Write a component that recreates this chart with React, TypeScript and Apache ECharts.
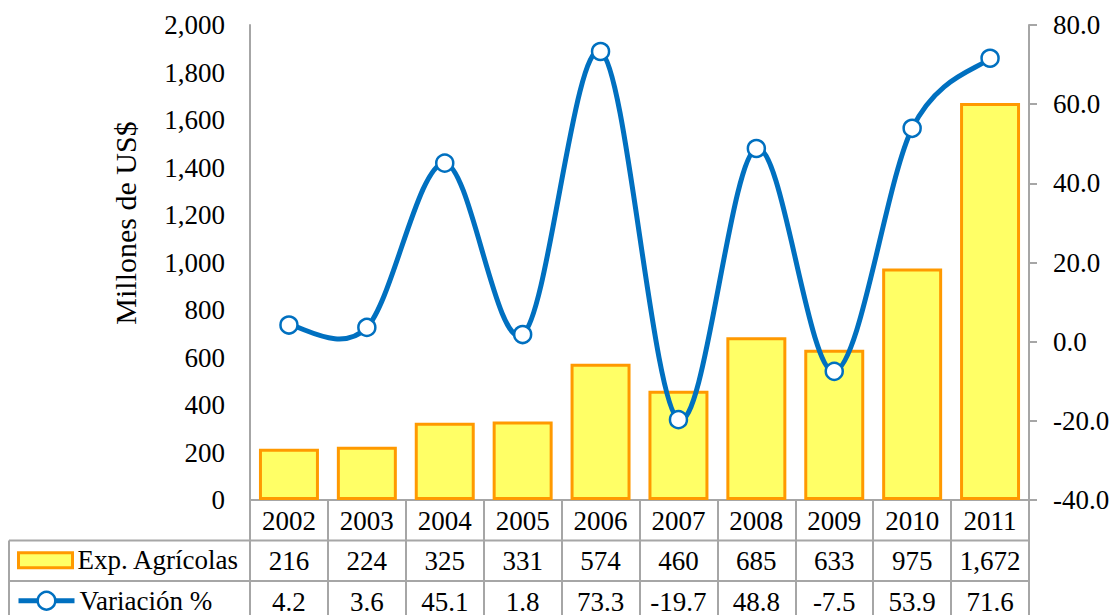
import React, { useEffect, useRef } from "react";
import * as echarts from "echarts";

// Agricultural exports (millions of US$) and their year-on-year change (%)
const years = ["2002", "2003", "2004", "2005", "2006", "2007", "2008", "2009", "2010", "2011"];
const exportValues = [216, 224, 325, 331, 574, 460, 685, 633, 975, 1672];
const variationValues = [4.2, 3.6, 45.1, 1.8, 73.3, -19.7, 48.8, -7.5, 53.9, 71.6];

const exportName = "Exp. Agrícolas";
const variationName = "Variación %";
const leftAxisName = "Millones de US$";

const FONT = "'Liberation Serif', 'Times New Roman', serif";
const FS = 27;
const GRID_COLOR = "#A6A6A6";
const BLUE = "#0070C0";
const BAR_FILL = "#FFFF66";
const BAR_EDGE = "#FF9900";

const fmtThousands = (v: number) => v.toLocaleString("en-US");
const fmtOneDecimal = (v: number) => v.toFixed(1);

// plot area and data table geometry
const GRID_LEFT = 250;
const GRID_RIGHT = 1029;
const GRID_TOP = 25;
const GRID_BOTTOM = 500;
const ROW_H = 40.5;
const TABLE_LEFT = 9;

// Catmull-Rom style smoothing: one cubic bezier per segment between points i and i+1
function renderSmoothSegment(params: any, api: any) {
  const i = params.dataIndex;
  const n = variationValues.length;
  if (i >= n - 1) return { type: "group", children: [] };
  const pt = (k: number) => {
    const j = Math.max(0, Math.min(n - 1, k));
    return api.coord([j, variationValues[j]]);
  };
  const p0 = pt(i - 1);
  const p1 = pt(i);
  const p2 = pt(i + 1);
  const p3 = pt(i + 2);
  return {
    type: "bezierCurve",
    silent: true,
    z2: 10,
    shape: {
      x1: p1[0],
      y1: p1[1],
      x2: p2[0],
      y2: p2[1],
      cpx1: p1[0] + (p2[0] - p0[0]) / 6,
      cpy1: p1[1] + (p2[1] - p0[1]) / 6,
      cpx2: p2[0] - (p3[0] - p1[0]) / 6,
      cpy2: p2[1] - (p3[1] - p1[1]) / 6,
    },
    style: { stroke: BLUE, lineWidth: 5, fill: "none", lineCap: "round" },
  };
}

export default function App() {
  const ref = useRef<HTMLDivElement>(null);

  useEffect(() => {
    if (!ref.current) return;
    const chart = echarts.init(ref.current, undefined, { renderer: "svg" });

    const labelStyle = { color: "#000", fontFamily: FONT, fontSize: FS };
    const row1 = GRID_BOTTOM + ROW_H;
    const row2 = GRID_BOTTOM + 2 * ROW_H;

    const tableRowAxis = (labels: string[], offset: number) => ({
      type: "category",
      data: labels,
      position: "bottom",
      offset,
      axisLine: { show: false },
      axisTick: { show: false },
      axisLabel: { ...labelStyle, margin: 7, interval: 0 },
    });

    chart.setOption({
      animation: false,
      backgroundColor: "#fff",
      textStyle: { fontFamily: FONT },
      grid: {
        left: GRID_LEFT,
        right: 1113 - GRID_RIGHT,
        top: GRID_TOP,
        bottom: 615 - GRID_BOTTOM,
        containLabel: false,
      },
      legend: [
        {
          data: [
            {
              name: exportName,
              icon: "rect",
              itemStyle: { color: BAR_FILL, borderColor: BAR_EDGE, borderWidth: 3 },
            },
          ],
          left: 17,
          top: row1 + ROW_H / 2 - 14,
          padding: 0,
          itemWidth: 54,
          itemHeight: 15,
          textStyle: labelStyle,
        },
        {
          data: [
            {
              name: variationName,
              itemStyle: { color: "#fff", borderColor: BLUE, borderWidth: 2.5 },
              lineStyle: { color: BLUE, width: 5, opacity: 1 },
            },
          ],
          left: 16,
          top: row2 + ROW_H / 2 - 14,
          padding: 0,
          itemWidth: 56,
          itemHeight: 22,
          textStyle: labelStyle,
        },
      ],
      xAxis: [
        {
          type: "category",
          data: years,
          position: "bottom",
          axisLine: { show: true, lineStyle: { color: GRID_COLOR, width: 2 } },
          axisTick: {
            show: true,
            inside: false,
            length: 2 * ROW_H + 40,
            lineStyle: { color: GRID_COLOR, width: 2 },
          },
          axisLabel: { ...labelStyle, margin: 7, interval: 0 },
        },
        tableRowAxis(exportValues.map(fmtThousands), ROW_H),
        tableRowAxis(variationValues.map(fmtOneDecimal), 2 * ROW_H),
      ],
      yAxis: [
        {
          type: "value",
          min: 0,
          max: 2000,
          interval: 200,
          position: "left",
          splitLine: { show: false },
          axisLine: { show: true, lineStyle: { color: GRID_COLOR, width: 2 } },
          axisTick: { show: false },
          axisLabel: { ...labelStyle, margin: 25, formatter: fmtThousands },
        },
        {
          type: "value",
          min: -40,
          max: 80,
          interval: 20,
          position: "right",
          splitLine: { show: false },
          axisLine: { show: true, lineStyle: { color: GRID_COLOR, width: 2 } },
          axisTick: { show: true, inside: false, length: 8, lineStyle: { color: GRID_COLOR, width: 2 } },
          axisLabel: { ...labelStyle, margin: 24, formatter: fmtOneDecimal },
        },
      ],
      series: [
        {
          name: exportName,
          type: "bar",
          xAxisIndex: 0,
          yAxisIndex: 0,
          data: exportValues,
          barCategoryGap: "23%",
          itemStyle: { color: BAR_FILL, borderColor: BAR_EDGE, borderWidth: 3 },
          z: 2,
        },
        {
          // smooth curve through the variation points
          type: "custom",
          xAxisIndex: 0,
          yAxisIndex: 1,
          data: variationValues.map((v, i) => [i, v]),
          encode: { x: 0, y: 1 },
          renderItem: renderSmoothSegment,
          clip: false,
          z: 5,
        },
        {
          // markers for the variation points
          name: variationName,
          type: "line",
          xAxisIndex: 0,
          yAxisIndex: 1,
          data: variationValues,
          symbol: "circle",
          symbolSize: 17,
          lineStyle: { color: BLUE, width: 5, opacity: 0 },
          itemStyle: { color: "#fff", borderColor: BLUE, borderWidth: 2.5 },
          z: 6,
        },
      ],
      graphic: [
        {
          type: "text",
          x: 125,
          y: 223,
          rotation: Math.PI / 2,
          style: {
            text: leftAxisName,
            fill: "#000",
            fontFamily: FONT,
            fontSize: 30,
            align: "center",
            verticalAlign: "middle",
          },
        },
        // data table borders
        {
          type: "line",
          shape: { x1: TABLE_LEFT, y1: row1, x2: GRID_RIGHT, y2: row1 },
          style: { stroke: GRID_COLOR, lineWidth: 2 },
        },
        {
          type: "line",
          shape: { x1: TABLE_LEFT, y1: row2, x2: GRID_RIGHT, y2: row2 },
          style: { stroke: GRID_COLOR, lineWidth: 2 },
        },
        {
          type: "line",
          shape: { x1: TABLE_LEFT, y1: row1, x2: TABLE_LEFT, y2: 615 },
          style: { stroke: GRID_COLOR, lineWidth: 2 },
        },
      ],
    });

    return () => chart.dispose();
  }, []);

  return (
    <div
      ref={ref}
      style={{ position: "absolute", left: 0, top: 0, width: 1113, height: 615, background: "#fff" }}
    />
  );
}
